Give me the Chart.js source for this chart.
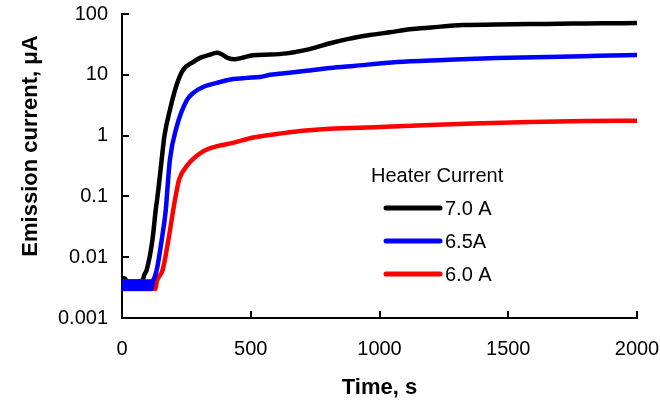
<!DOCTYPE html>
<html>
<head>
<meta charset="utf-8">
<title>Emission current vs time</title>
<script src="https://cdn.jsdelivr.net/npm/chart.js"></script>
<style>
  html, body { margin: 0; padding: 0; background: #fff; }
  #wrap { width: 660px; height: 406px; }
</style>
</head>
<body>
<div id="wrap"><canvas id="emission-chart" width="660" height="406"></canvas></div>
<script>
// heater current 7.0 A
const time70 = [0, 10, 20, 40, 60, 80, 87, 96, 118, 131, 141, 154, 165, 186, 212, 237, 276, 303, 335, 369, 385, 410, 439, 465, 509, 575, 640, 691, 750, 808, 880, 963, 1040, 1118, 1200, 1324, 1450, 1584, 1700, 1800, 1900, 2000];
const current70 = [0.0045, 0.0045, 0.004, 0.004, 0.004, 0.0042, 0.0052, 0.0062, 0.019, 0.06, 0.127, 0.4, 1.0, 2.64, 6.8, 12, 16.2, 19, 21, 23, 22, 19, 18, 19, 21, 21.5, 22.5, 24.5, 28, 33, 39, 45, 50, 56, 60, 66, 67, 68.5, 69, 70, 70.5, 71];

// heater current 6.5 A
const time65 = [0, 5, 10, 15, 20, 25, 30, 35, 40, 45, 50, 55, 60, 65, 70, 75, 80, 85, 90, 95, 100, 105, 110, 115, 120, 125, 135, 154, 170, 176, 186, 212, 252, 276, 315, 381, 431, 485, 536, 575, 650, 730, 808, 900, 1068, 1250, 1456, 1700, 1850, 2000];
const current65 = [0.004, 0.003, 0.004, 0.003, 0.004, 0.003, 0.004, 0.003, 0.004, 0.003, 0.004, 0.003, 0.004, 0.003, 0.004, 0.003, 0.004, 0.003, 0.004, 0.003, 0.004, 0.003, 0.004, 0.003, 0.004, 0.0045, 0.0062, 0.019, 0.06, 0.127, 0.4, 1.38, 3.85, 5.0, 6.3, 7.6, 8.5, 8.9, 9.2, 10, 10.8, 11.8, 12.9, 14, 16.2, 17.5, 18.9, 19.8, 20.5, 21.2];

// heater current 6.0 A
const time60 = [0, 5, 10, 15, 20, 25, 30, 35, 40, 45, 50, 55, 60, 65, 70, 75, 80, 85, 90, 95, 100, 105, 110, 115, 120, 125, 130, 135, 140, 158, 180, 199, 210, 222, 255, 315, 370, 431, 509, 548, 600, 700, 808, 1000, 1196, 1400, 1584, 1800, 2000];
const current60 = [0.003, 0.004, 0.003, 0.004, 0.003, 0.004, 0.003, 0.004, 0.003, 0.004, 0.003, 0.004, 0.003, 0.004, 0.003, 0.004, 0.003, 0.004, 0.003, 0.004, 0.003, 0.004, 0.003, 0.004, 0.003, 0.004, 0.003, 0.004, 0.0045, 0.0062, 0.019, 0.06, 0.11, 0.19, 0.33, 0.55, 0.67, 0.76, 0.93, 0.99, 1.06, 1.2, 1.3, 1.38, 1.5, 1.6, 1.68, 1.74, 1.76];

const seriesLabels = ['7.0 A', '6.5A', '6.0 A'];
const seriesColors = ['#000000', '#0000ff', '#ff0000'];

const xTicks = [0, 500, 1000, 1500, 2000];
const xTickLabels = ['0', '500', '1000', '1500', '2000'];
const yTicks = [0.001, 0.01, 0.1, 1, 10, 100];
const yTickLabels = ['0.001', '0.01', '0.1', '1', '10', '100'];

const FONT = '"Liberation Sans", Arial, sans-serif';

function toPoints(times, values) {
	return times.map((t, i) => ({ x: t, y: values[i] }));
}

// keep the plot box fixed, no extra room for overhanging labels
function fixBox(scale, key, size) {
	scale[key] = size;
	scale.paddingLeft = 0;
	scale.paddingRight = 0;
	scale.paddingTop = 0;
	scale.paddingBottom = 0;
}

// inward tick marks, legend block and axis titles
const overlay = {
	id: 'overlay',
	afterDraw(chart) {
		const ctx = chart.ctx;
		const area = chart.chartArea;
		const xs = chart.scales.x;
		const ys = chart.scales.y;
		ctx.save();
		ctx.strokeStyle = '#000';
		ctx.lineWidth = 2;
		ctx.beginPath();
		xTicks.forEach(v => {
			const px = Math.round(xs.getPixelForValue(v));
			ctx.moveTo(px, area.bottom);
			ctx.lineTo(px, area.bottom - 7);
		});
		yTicks.forEach(v => {
			const py = Math.round(ys.getPixelForValue(v));
			ctx.moveTo(area.left, py);
			ctx.lineTo(area.left + 7, py);
		});
		ctx.stroke();

		// legend
		ctx.fillStyle = '#000';
		ctx.textBaseline = 'middle';
		ctx.textAlign = 'left';
		ctx.font = '20px ' + FONT;
		ctx.fillText('Heater Current', 371, 176);
		ctx.lineWidth = 5;
		ctx.lineCap = 'round';
		chart.data.datasets.forEach((ds, i) => {
			const ly = 208 + i * 33;
			ctx.strokeStyle = ds.borderColor;
			ctx.beginPath();
			ctx.moveTo(386, ly);
			ctx.lineTo(440, ly);
			ctx.stroke();
			ctx.fillText(ds.label, 445, ly + 1);
		});

		// axis titles
		ctx.font = 'bold 22px ' + FONT;
		ctx.textAlign = 'center';
		ctx.fillText('Time, s', (area.left + area.right) / 2, 388);
		ctx.translate(31, 146);
		ctx.rotate(-Math.PI / 2);
		ctx.fillText('Emission current, \u03bcA', 0, 0);
		ctx.restore();
	}
};

const datasets = [
	{ label: seriesLabels[0], data: toPoints(time70, current70), order: 3 },
	{ label: seriesLabels[1], data: toPoints(time65, current65), order: 1 },
	{ label: seriesLabels[2], data: toPoints(time60, current60), order: 2 }
].map((ds, i) => Object.assign(ds, {
	borderColor: seriesColors[i],
	backgroundColor: seriesColors[i],
	borderWidth: 4.5,
	pointRadius: 0,
	fill: false,
	cubicInterpolationMode: 'monotone',
	borderCapStyle: 'round',
	borderJoinStyle: 'round'
}));

const chart = new Chart(document.getElementById('emission-chart'), {
	type: 'line',
	data: { datasets: datasets },
	options: {
		responsive: false,
		animation: false,
		devicePixelRatio: 1,
		layout: { padding: { top: 14, right: 23, bottom: 0, left: 0 } },
		plugins: {
			legend: { display: false },
			tooltip: { enabled: false }
		},
		scales: {
			x: {
				type: 'linear',
				min: 0,
				max: 2000,
				afterFit: scale => fixBox(scale, 'height', 88),
				afterBuildTicks: scale => { scale.ticks = xTicks.map(v => ({ value: v })); },
				ticks: {
					color: '#000',
					font: { family: FONT, size: 20 },
					padding: 19,
					maxRotation: 0,
					callback: (value, index) => xTickLabels[index]
				},
				grid: { display: false, drawTicks: false },
				border: { display: true, color: '#000', width: 2 }
			},
			y: {
				type: 'logarithmic',
				min: 0.001,
				max: 100,
				afterFit: scale => fixBox(scale, 'width', 122),
				afterBuildTicks: scale => { scale.ticks = yTicks.map(v => ({ value: v })); },
				ticks: {
					color: '#000',
					font: { family: FONT, size: 20 },
					padding: 14,
					callback: (value, index) => yTickLabels[index]
				},
				grid: { display: false, drawTicks: false },
				border: { display: true, color: '#000', width: 2 }
			}
		}
	},
	plugins: [overlay]
});
</script>
</body>
</html>
